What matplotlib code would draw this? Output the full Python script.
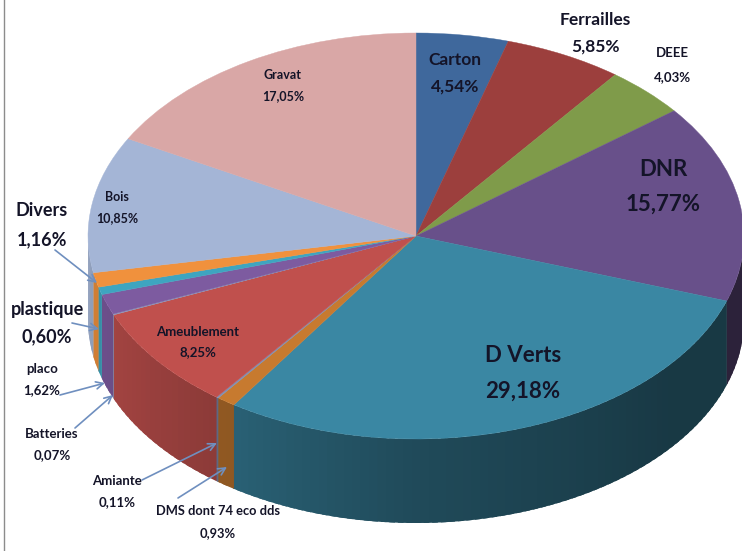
# plot.py
# usage: python3 plot.py
import numpy as np
from matplotlib import pyplot as plt
from matplotlib.colors import to_rgb

plt.rcParams['font.family'] = ['Lato', 'DejaVu Sans']

labels = ['Carton', 'Ferrailles', 'DEEE', 'DNR', 'D Verts', 'DMS dont 74 eco dds', 'Amiante',
          'Ameublement', 'Batteries', 'placo', 'plastique', 'Divers', 'Bois', 'Gravat']
values = [4.54, 5.85, 4.03, 15.77, 29.18, 0.93, 0.11, 8.25, 0.07, 1.62, 0.60, 1.16, 10.85, 17.05]
colors = ['#3F689C', '#9C3F3D', '#7F9B4A', '#68508A', '#3A87A3', '#C77A2F', '#7F8FB5',
          '#C0504D', '#8A9BC0', '#7D5BA0', '#3EA5C0', '#F0913D', '#A4B5D6', '#D9A7A6']

# label centre (x, y name line, y value line) and font size, in image pixels
label_pos = [(455, 60, 87, 12.5), (595, 20, 47, 12.5), (672, 53, 77, 9.5), (663, 169, 204, 16),
             (523, 356, 391, 16), (218, 511, 533, 9.3), (117, 481, 502, 9.5), (198, 332, 352, 9.5),
             (52, 434, 455, 9.5), (42, 369, 390, 9.5), (47, 309, 337, 13), (42, 211, 240, 13),
             (117, 197, 218, 9), (283, 75, 96, 9)]
arrows = [((55, 250), (97, 283)), ((72, 323), (99, 329)), ((60, 395), (105, 383)),
          ((75, 428), (113, 395)), ((142, 480), (217, 443)), ((178, 498), (227, 467))]

W, H = 742, 551
cx, cy, rx, ry, depth = 416, 236, 328, 203, 84

fig = plt.figure(figsize=(W/100, H/100), dpi=100, facecolor='white')
ax = fig.add_axes([0, 0, 1, 1])
wedges, _ = ax.pie(values, colors=colors, startangle=90, counterclock=False)
for w in wedges:
  w.set_edgecolor(w.get_facecolor())
  w.set_linewidth(0.3)
  w.set_zorder(3)
ax.set_aspect('auto')
ax.set_xlim(-cx/rx, (W-cx)/rx)
ax.set_ylim((cy-H)/ry, cy/ry)

# side wall, shaded with the angle; each strip runs under the next one so no seams show
ends = np.cumsum(values)/np.sum(values)*360
starts = np.r_[0, ends[:-1]]
for a0, a1, c in zip(starts, ends, colors):
  a0 = max(a0, 90)
  a1 = min(a1, 270)
  if a1 <= a0:
    continue
  edge = np.r_[np.arange(a0, a1, 1.5), a1]
  for t0, t1 in zip(edge[:-1], edge[1:]):
    arc = np.radians(np.linspace(t0, min(t1+1.0, a1+0.15), 6))
    shade = np.interp((t0+t1)/2, [90, 130, 180, 215, 250, 270], [.42, .42, .55, .72, .86, .88])
    x = np.sin(arc)
    y = np.cos(arc)
    d = depth/ry
    ax.fill(np.r_[x, x[::-1]], np.r_[y, y[::-1]-d],
            color=tuple(np.array(to_rgb(c))*shade), lw=0, zorder=2)

# overlay in pixel coordinates for texts and arrows
ov = fig.add_axes([0, 0, 1, 1], facecolor='none')
ov.set_xlim(0, W)
ov.set_ylim(H, 0)
ov.axis('off')
ov.plot([4, 4], [0, H], color='#8c8c8c', lw=1)

for (p0, p1) in arrows:
  ov.annotate('', xy=p1, xytext=p0,
              arrowprops=dict(arrowstyle='->', color='#6F8FBF', lw=1.2, shrinkA=0, shrinkB=0,
                              mutation_scale=13))

for name, v, (x, y0, y1, fs) in zip(labels, values, label_pos):
  val = '{:.2f}%'.format(v).replace('.', ',')
  ov.text(x, y0, name, fontsize=fs, fontweight='bold', color='#141428', ha='center', va='center')
  ov.text(x, y1, val, fontsize=fs, fontweight='bold', color='#141428', ha='center', va='center')

plt.savefig('out.png', dpi=100)
# end of file
